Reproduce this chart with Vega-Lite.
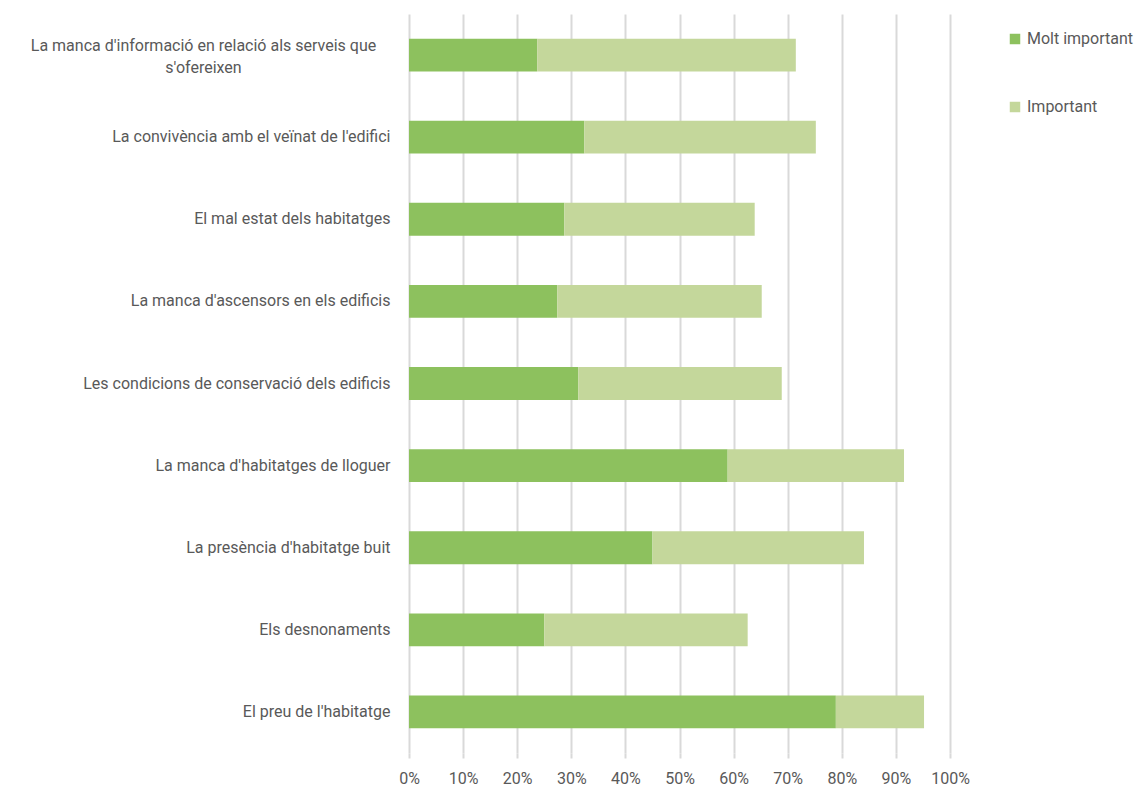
{
  "$schema": "https://vega.github.io/schema/vega-lite/v6.json",
  "width": 541,
  "height": 739,
  "autosize": {"type": "none"},
  "padding": {"left": 409, "top": 14, "right": 187, "bottom": 36},
  "background": "white",
  "config": {"view": {"stroke": null}, "font": "Roboto"},
  "data": {"values": [
    {"cat": "La manca d'informació en relació als serveis que|s'ofereixen", "type": "Molt important", "o": 1, "v": 0.237},
    {"cat": "La manca d'informació en relació als serveis que|s'ofereixen", "type": "Important", "o": 2, "v": 0.478},
    {"cat": "La convivència amb el veïnat de l'edifici", "type": "Molt important", "o": 1, "v": 0.324},
    {"cat": "La convivència amb el veïnat de l'edifici", "type": "Important", "o": 2, "v": 0.428},
    {"cat": "El mal estat dels habitatges", "type": "Molt important", "o": 1, "v": 0.287},
    {"cat": "El mal estat dels habitatges", "type": "Important", "o": 2, "v": 0.352},
    {"cat": "La manca d'ascensors en els edificis", "type": "Molt important", "o": 1, "v": 0.274},
    {"cat": "La manca d'ascensors en els edificis", "type": "Important", "o": 2, "v": 0.378},
    {"cat": "Les condicions de conservació dels edificis", "type": "Molt important", "o": 1, "v": 0.313},
    {"cat": "Les condicions de conservació dels edificis", "type": "Important", "o": 2, "v": 0.376},
    {"cat": "La manca d'habitatges de lloguer", "type": "Molt important", "o": 1, "v": 0.589},
    {"cat": "La manca d'habitatges de lloguer", "type": "Important", "o": 2, "v": 0.326},
    {"cat": "La presència d'habitatge buit", "type": "Molt important", "o": 1, "v": 0.450},
    {"cat": "La presència d'habitatge buit", "type": "Important", "o": 2, "v": 0.391},
    {"cat": "Els desnonaments", "type": "Molt important", "o": 1, "v": 0.250},
    {"cat": "Els desnonaments", "type": "Important", "o": 2, "v": 0.376},
    {"cat": "El preu de l'habitatge", "type": "Molt important", "o": 1, "v": 0.789},
    {"cat": "El preu de l'habitatge", "type": "Important", "o": 2, "v": 0.163}
  ]},
  "mark": {"type": "bar"},
  "encoding": {
    "y": {
      "field": "cat", "type": "nominal", "sort": null, "title": null,
      "scale": {"paddingInner": 0.6, "paddingOuter": 0.3},
      "axis": {
        "domain": false, "ticks": false, "grid": false,
        "labelExpr": "split(datum.value, '|')",
        "labelFontSize": 16, "labelColor": "#595959",
        "labelPadding": {"condition": {"test": "indexof(datum.value, '|') >= 0", "value": 206}, "value": 19},
        "labelAlign": {"condition": {"test": "indexof(datum.value, '|') >= 0", "value": "center"}, "value": "right"},
        "labelOffset": {"condition": {"test": "indexof(datum.value, '|') >= 0", "value": -9}, "value": 0},
        "labelLimit": 500, "labelLineHeight": 22
      }
    },
    "x": {
      "field": "v", "type": "quantitative", "stack": "zero", "title": null,
      "scale": {"domain": [0, 1]},
      "axis": {
        "format": ".0%", "values": [0,0.1,0.2,0.3,0.4,0.5,0.6,0.7,0.8,0.9,1],
        "labelOverlap": false, "labelFlush": false,
        "domain": false, "grid": true, "gridColor": "#d9d9d9", "gridWidth": 2,
        "ticks": true, "tickColor": "#d9d9d9", "tickSize": 5, "tickWidth": 2,
        "labelFontSize": 16, "labelColor": "#595959", "labelPadding": 12
      }
    },
    "color": {
      "field": "type", "type": "nominal", "sort": ["Molt important", "Important"], "title": null,
      "scale": {"domain": ["Molt important", "Important"], "range": ["#8dc15e", "#c4d79b"]},
      "legend": {
        "orient": "none", "legendX": 598, "legendY": 17,
        "symbolType": "square", "symbolSize": 110, "symbolStrokeWidth": 0,
        "labelFontSize": 16, "labelColor": "#595959", "rowPadding": 52, "labelOffset": 4
      }
    },
    "order": {"field": "o", "type": "quantitative"}
  }
}
